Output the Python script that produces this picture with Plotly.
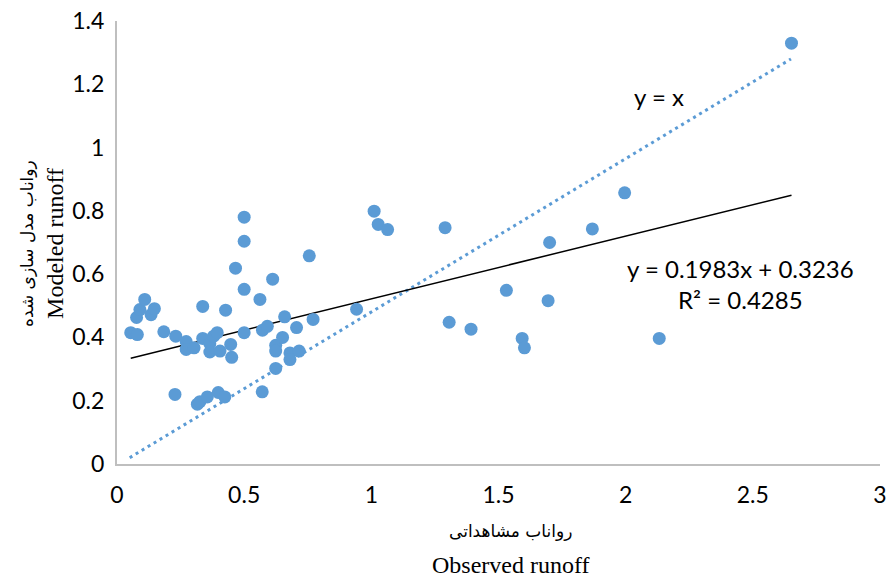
import plotly.graph_objects as go

# Observed (x) vs modeled (y) runoff
observed = [0.054, 0.080, 0.077, 0.090, 0.109, 0.134, 0.147, 0.184, 0.231, 0.228,
            0.272, 0.272, 0.303, 0.316, 0.326, 0.337, 0.337, 0.355, 0.365, 0.365,
            0.380, 0.394, 0.398, 0.405, 0.424, 0.427, 0.447, 0.451, 0.466, 0.500,
            0.500, 0.500, 0.500, 0.562, 0.571, 0.572, 0.591, 0.612, 0.624, 0.624,
            0.624, 0.651, 0.659, 0.680, 0.680, 0.706, 0.716, 0.756, 0.771, 0.942,
            1.011, 1.027, 1.064, 1.290, 1.306, 1.392, 1.531, 1.593, 1.602, 1.695,
            1.701, 1.869, 1.996, 2.132, 2.652]
modeled = [0.415, 0.409, 0.463, 0.488, 0.520, 0.472, 0.491, 0.418, 0.404, 0.220,
           0.387, 0.362, 0.367, 0.189, 0.197, 0.498, 0.397, 0.212, 0.380, 0.354,
           0.404, 0.415, 0.226, 0.357, 0.212, 0.486, 0.378, 0.337, 0.619, 0.780,
           0.704, 0.552, 0.415, 0.520, 0.228, 0.423, 0.435, 0.584, 0.375, 0.357,
           0.302, 0.400, 0.465, 0.351, 0.330, 0.431, 0.357, 0.658, 0.457, 0.489,
           0.799, 0.757, 0.741, 0.747, 0.448, 0.426, 0.549, 0.397, 0.367, 0.516,
           0.700, 0.743, 0.857, 0.397, 1.330]

# Reference ("y = x") dotted line end points as drawn
ref_x = [0.05, 2.65]
ref_y = [0.02, 1.28]

# Linear trendline
trend_slope = 0.1983
trend_intercept = 0.3236
trend_x = [min(observed), max(observed)]
trend_y = [trend_slope * v + trend_intercept for v in trend_x]

x_ticks = [0, 0.5, 1, 1.5, 2, 2.5, 3]
x_tick_labels = ["0", "0.5", "1", "1.5", "2", "2.5", "3"]
y_ticks = [0, 0.2, 0.4, 0.6, 0.8, 1, 1.2, 1.4]
y_tick_labels = ["0", "0.2", "0.4", "0.6", "0.8", "1", "1.2", "1.4"]

blue = "#5B9BD5"

fig = go.Figure()
fig.add_trace(go.Scatter(x=ref_x, y=ref_y, mode="lines",
                         line=dict(color=blue, width=3, dash="3px,4px"),
                         hoverinfo="skip", showlegend=False))
fig.add_trace(go.Scatter(x=trend_x, y=trend_y, mode="lines",
                         line=dict(color="black", width=1.5),
                         hoverinfo="skip", showlegend=False))
fig.add_trace(go.Scatter(x=observed, y=modeled, mode="markers",
                         marker=dict(color=blue, size=13, line=dict(width=0)),
                         showlegend=False))

tick_font = dict(family="Lato, sans-serif", size=23, color="black")

fig.update_xaxes(range=[0, 3], tickvals=x_ticks, ticktext=x_tick_labels,
                 showgrid=False, zeroline=False, showline=True, automargin=False,
                 linecolor="#BFBFBF", linewidth=2, ticks="", tickfont=tick_font,
                 ticklabelstandoff=9, ticklabeloverflow="allow")
fig.update_yaxes(range=[0, 1.4], tickvals=y_ticks, ticktext=y_tick_labels,
                 showgrid=False, zeroline=False, showline=True, automargin=False,
                 linecolor="#BFBFBF", linewidth=2, ticks="", tickfont=tick_font,
                 ticklabelstandoff=6, ticklabeloverflow="allow")

ann_font = dict(family="Lato, sans-serif", size=24, color="black")
fig.add_annotation(x=2.13, y=1.161, xref="x", yref="y", text="y = x",
                   showarrow=False, font=ann_font)
fig.add_annotation(x=2.452, y=0.568, xref="x", yref="y",
                   text="y = 0.1983x + 0.3236<br>R² = 0.4285",
                   showarrow=False, font=ann_font, align="center")

# Axis titles
fig.add_annotation(x=0.516, y=-0.152, xref="paper", yref="paper",
                   xanchor="center", yanchor="middle",
                   text="رواناب مشاهداتی", showarrow=False,
                   font=dict(family="DejaVu Sans", size=17, color="black"))
fig.add_annotation(x=0.516, y=-0.228, xref="paper", yref="paper",
                   xanchor="center", yanchor="middle",
                   text="Observed runoff", showarrow=False,
                   font=dict(family="Liberation Serif", size=24, color="black"))
fig.add_annotation(x=-0.118, y=0.499, xref="paper", yref="paper",
                   xanchor="center", yanchor="middle",
                   text="رواناب مدل سازی شده", showarrow=False, textangle=-90,
                   font=dict(family="DejaVu Sans", size=17, color="black"))
fig.add_annotation(x=-0.0813, y=0.499, xref="paper", yref="paper",
                   xanchor="center", yanchor="middle",
                   text="Modeled runoff", showarrow=False, textangle=-90,
                   font=dict(family="Liberation Serif", size=24, color="black"))

fig.update_layout(width=890, height=581,
                  margin=dict(l=117, r=10, t=21, b=117),
                  plot_bgcolor="white", paper_bgcolor="white")

# remove the page's default body margin so the figure fills the window exactly
fig.write_html("out.html", config={"displayModeBar": False},
               post_script="document.body.style.margin='0px';document.body.style.overflow='hidden';")
